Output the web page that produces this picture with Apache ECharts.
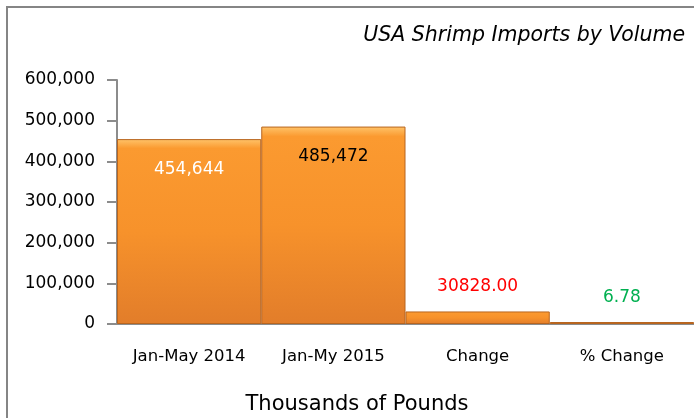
<!DOCTYPE html>
<html>
<head>
<meta charset="utf-8">
<script src="https://cdn.jsdelivr.net/npm/echarts@6/dist/echarts.min.js"></script>
<style>
  html, body { margin: 0; padding: 0; background: #fff; }
  #chart { width: 694px; height: 418px; }
</style>
</head>
<body>
<div id="chart"></div>
<script>
// chart data
const categories = ['Jan-May 2014', 'Jan-My 2015', 'Change', '% Change'];
const volumes = [454644, 485472, 30828, 6.78];
const valueLabels = ['454,644', '485,472', '30828.00', '6.78'];
const labelColors = ['#ffffff', '#000000', '#ff0000', '#00b050'];
const yTicks = [0, 100000, 200000, 300000, 400000, 500000, 600000];

const fontName = 'DejaVu Sans';

const barFill = new echarts.graphic.LinearGradient(0, 0, 0, 1, [
    { offset: 0, color: '#ffc46a' },
    { offset: 0.05, color: '#fb9a30' },
    { offset: 0.5, color: '#f7922b' },
    { offset: 1, color: '#e27d2a' }
]);

const seriesData = volumes.map(function (v, i) {
    const inside = i < 2;
    return {
        value: v,
        label: {
            show: true,
            position: inside ? 'insideTop' : 'top',
            distance: inside ? 22 : 16,
            formatter: valueLabels[i],
            color: labelColors[i],
            fontSize: 17,
            fontFamily: fontName
        }
    };
});

const chart = echarts.init(document.getElementById('chart'));
chart.setOption({
    animation: false,
    title: {
        text: 'USA Shrimp Imports by Volume',
        right: 4,
        top: 21,
        textStyle: {
            fontFamily: fontName,
            fontStyle: 'italic',
            fontWeight: 'normal',
            fontSize: 20.5,
            color: '#000'
        }
    },
    graphic: [
        {
            type: 'rect',
            shape: { x: 7, y: 7, width: 720, height: 440 },
            style: { fill: 'none', stroke: '#858585', lineWidth: 2 },
            silent: true
        },
        {
            type: 'text',
            x: 357,
            y: 405,
            style: {
                text: 'Thousands of Pounds',
                fontFamily: fontName,
                fontSize: 21,
                fill: '#000',
                align: 'center',
                verticalAlign: 'middle'
            }
        }
    ],
    grid: {
        left: 117,
        right: -5,
        top: 80,
        bottom: 94,
        containLabel: false
    },
    xAxis: {
        type: 'category',
        data: categories,
        axisLine: { lineStyle: { color: '#8c8c8c', width: 2 } },
        axisTick: { show: false },
        axisLabel: {
            interval: 0,
            margin: 24,
            fontSize: 16.5,
            fontFamily: fontName,
            color: '#000'
        }
    },
    yAxis: {
        type: 'value',
        min: yTicks[0],
        max: yTicks[yTicks.length - 1],
        interval: 100000,
        splitLine: { show: false },
        axisLine: { show: true, lineStyle: { color: '#8c8c8c', width: 2 } },
        axisTick: { show: true, length: 10, lineStyle: { color: '#8c8c8c', width: 2 } },
        axisLabel: {
            margin: 22,
            fontSize: 17,
            fontFamily: fontName,
            color: '#000',
            formatter: function (v) {
                return v.toLocaleString('en-US');
            }
        }
    },
    series: [{
        type: 'bar',
        data: seriesData,
        barCategoryGap: '0%',
        barMinHeight: 2,
        itemStyle: {
            color: barFill,
            borderColor: '#b8651f',
            borderWidth: 1
        }
    }]
});

window.onresize = function () {
    chart.resize();
};
</script>
</body>
</html>
